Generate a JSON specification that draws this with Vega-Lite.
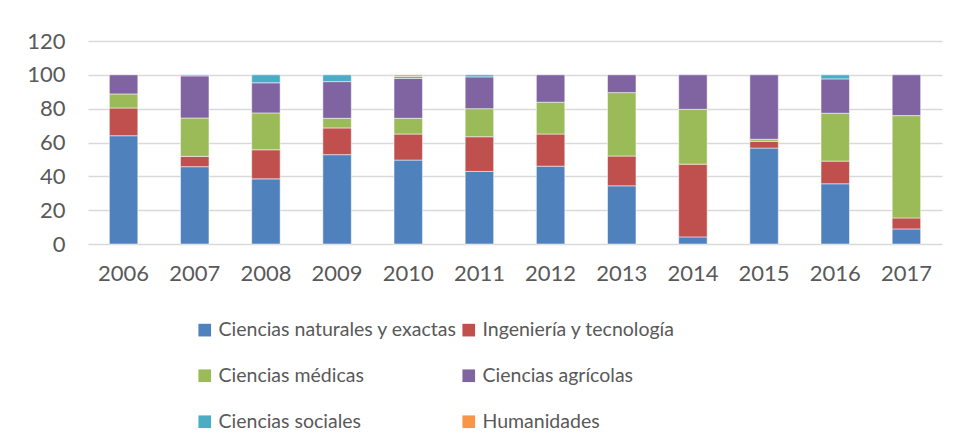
{
  "$schema": "https://vega.github.io/schema/vega-lite/v6.json",
  "autosize": "none",
  "width": 854,
  "height": 203,
  "padding": {"left": 88, "top": 41, "right": 14, "bottom": 203},
  "background": "white",
  "data": {"values": [
    {"year": "2006", "area": "Ciencias naturales y exactas", "value": 64.0},
    {"year": "2006", "area": "Ingeniería y tecnología", "value": 16.4},
    {"year": "2006", "area": "Ciencias médicas", "value": 8.3},
    {"year": "2006", "area": "Ciencias agrícolas", "value": 11.3},
    {"year": "2007", "area": "Ciencias naturales y exactas", "value": 45.7},
    {"year": "2007", "area": "Ingeniería y tecnología", "value": 6.1},
    {"year": "2007", "area": "Ciencias médicas", "value": 22.7},
    {"year": "2007", "area": "Ciencias agrícolas", "value": 24.9},
    {"year": "2007", "area": "Ciencias sociales", "value": 0.6},
    {"year": "2008", "area": "Ciencias naturales y exactas", "value": 38.5},
    {"year": "2008", "area": "Ingeniería y tecnología", "value": 17.2},
    {"year": "2008", "area": "Ciencias médicas", "value": 21.8},
    {"year": "2008", "area": "Ciencias agrícolas", "value": 17.8},
    {"year": "2008", "area": "Ciencias sociales", "value": 4.7},
    {"year": "2009", "area": "Ciencias naturales y exactas", "value": 52.8},
    {"year": "2009", "area": "Ingeniería y tecnología", "value": 15.8},
    {"year": "2009", "area": "Ciencias médicas", "value": 5.7},
    {"year": "2009", "area": "Ciencias agrícolas", "value": 21.7},
    {"year": "2009", "area": "Ciencias sociales", "value": 4.0},
    {"year": "2010", "area": "Ciencias naturales y exactas", "value": 49.6},
    {"year": "2010", "area": "Ingeniería y tecnología", "value": 15.4},
    {"year": "2010", "area": "Ciencias médicas", "value": 9.3},
    {"year": "2010", "area": "Ciencias agrícolas", "value": 23.6},
    {"year": "2010", "area": "Ciencias sociales", "value": 1.2},
    {"year": "2010", "area": "Humanidades", "value": 0.9},
    {"year": "2011", "area": "Ciencias naturales y exactas", "value": 42.9},
    {"year": "2011", "area": "Ingeniería y tecnología", "value": 20.5},
    {"year": "2011", "area": "Ciencias médicas", "value": 16.6},
    {"year": "2011", "area": "Ciencias agrícolas", "value": 18.8},
    {"year": "2011", "area": "Ciencias sociales", "value": 1.2},
    {"year": "2012", "area": "Ciencias naturales y exactas", "value": 46.0},
    {"year": "2012", "area": "Ingeniería y tecnología", "value": 19.0},
    {"year": "2012", "area": "Ciencias médicas", "value": 18.8},
    {"year": "2012", "area": "Ciencias agrícolas", "value": 16.2},
    {"year": "2013", "area": "Ciencias naturales y exactas", "value": 34.4},
    {"year": "2013", "area": "Ingeniería y tecnología", "value": 17.6},
    {"year": "2013", "area": "Ciencias médicas", "value": 37.5},
    {"year": "2013", "area": "Ciencias agrícolas", "value": 10.5},
    {"year": "2014", "area": "Ciencias naturales y exactas", "value": 4.2},
    {"year": "2014", "area": "Ingeniería y tecnología", "value": 43.0},
    {"year": "2014", "area": "Ciencias médicas", "value": 32.4},
    {"year": "2014", "area": "Ciencias agrícolas", "value": 20.4},
    {"year": "2015", "area": "Ciencias naturales y exactas", "value": 56.7},
    {"year": "2015", "area": "Ingeniería y tecnología", "value": 4.0},
    {"year": "2015", "area": "Ciencias médicas", "value": 1.2},
    {"year": "2015", "area": "Ciencias agrícolas", "value": 38.1},
    {"year": "2016", "area": "Ciencias naturales y exactas", "value": 35.6},
    {"year": "2016", "area": "Ingeniería y tecnología", "value": 13.4},
    {"year": "2016", "area": "Ciencias médicas", "value": 28.3},
    {"year": "2016", "area": "Ciencias agrícolas", "value": 20.3},
    {"year": "2016", "area": "Ciencias sociales", "value": 2.4},
    {"year": "2017", "area": "Ciencias naturales y exactas", "value": 8.9},
    {"year": "2017", "area": "Ingeniería y tecnología", "value": 6.5},
    {"year": "2017", "area": "Ciencias médicas", "value": 60.5},
    {"year": "2017", "area": "Ciencias agrícolas", "value": 24.1}
  ]},
  "mark": {"type": "bar", "stroke": "#ffffff", "strokeOpacity": 0.5, "strokeWidth": 1},
  "encoding": {
    "x": {
      "field": "year", "type": "ordinal", "title": null,
      "scale": {"paddingInner": 0.6, "paddingOuter": 0.3},
      "axis": {"labelAngle": 0, "ticks": false, "domain": false, "labelPadding": 19, "labelFontSize": 22, "labelColor": "#595959", "labelFont": "Lato"}
    },
    "y": {
      "field": "value", "type": "quantitative", "title": null, "stack": "zero",
      "scale": {"domain": [0, 120], "nice": false},
      "axis": {"values": [0, 20, 40, 60, 80, 100, 120], "ticks": false, "domain": false, "labelPadding": 23, "labelFontSize": 22, "labelColor": "#595959", "labelFont": "Lato", "gridColor": "#d9d9d9", "gridWidth": 1.5}
    },
    "color": {
      "field": "area", "type": "nominal", "title": null,
      "sort": ["Ciencias naturales y exactas", "Ingeniería y tecnología", "Ciencias médicas", "Ciencias agrícolas", "Ciencias sociales", "Humanidades"],
      "scale": {
        "domain": ["Ciencias naturales y exactas", "Ingeniería y tecnología", "Ciencias médicas", "Ciencias agrícolas", "Ciencias sociales", "Humanidades"],
        "range": ["#4F81BD", "#C0504D", "#9BBB59", "#8064A2", "#4BACC6", "#F79646"]
      },
      "legend": {
        "orient": "none", "legendX": 107, "legendY": 279, "columns": 2, "direction": "horizontal",
        "symbolType": "square", "symbolSize": 160, "symbolStrokeWidth": 0, "symbolOpacity": 1,
        "labelFontSize": 19.5, "labelFont": "Lato", "labelColor": "#595959", "labelLimit": 400,
        "rowPadding": 25, "columnPadding": 2, "labelOffset": 4
      }
    },
    "order": {"field": "area_order", "type": "quantitative"}
  },
  "config": {"view": {"stroke": null}}
}
